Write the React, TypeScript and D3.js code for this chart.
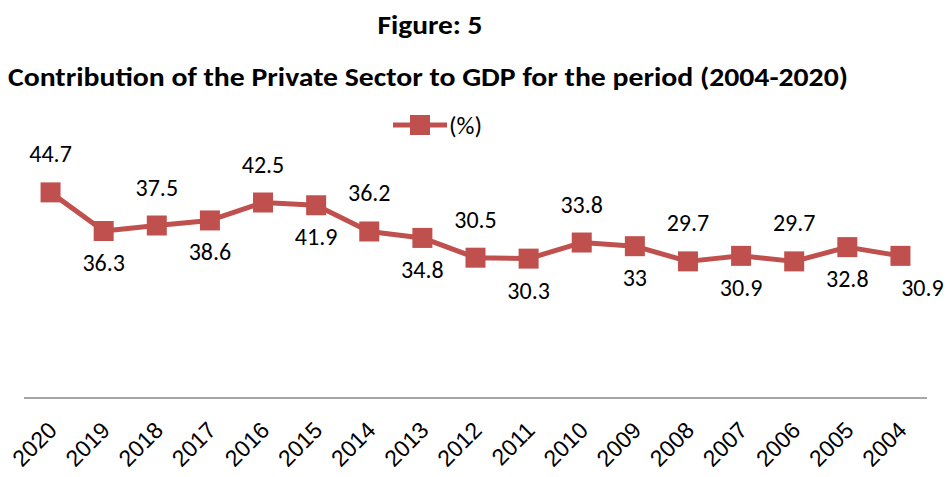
import React, { useEffect } from 'react';
import * as d3 from 'd3';

const years = ['2020', '2019', '2018', '2017', '2016', '2015', '2014', '2013', '2012',
  '2011', '2010', '2009', '2008', '2007', '2006', '2005', '2004'];
const values = [44.7, 36.3, 37.5, 38.6, 42.5, 41.9, 36.2, 34.8, 30.5,
  30.3, 33.8, 33, 29.7, 30.9, 29.7, 32.8, 30.9];
// Excel placed labels alternately above / below
const labelPos = ['above', 'below', 'above', 'below', 'above', 'below', 'above', 'below', 'above',
  'below', 'above', 'below', 'above', 'below', 'above', 'below', 'right'];
const seriesName = '(%)';
const title = 'Figure: 5';
const subtitle = 'Contribution of the Private Sector to GDP for the period (2004-2020)';

const W = 951;
const H = 477;
const RED = '#C0504D';
const axisY = 398;

const App = () => {
  useEffect(() => {
    document.body.style.margin = '0';
  }, []);

  const x = d3.scaleBand().domain(years).range([24, 927]);
  const y = d3.scaleLinear().domain([0, 50]).range([axisY, 168]);
  const cx = (d: string) => (x(d) || 0) + x.bandwidth() / 2;

  const line = d3.line<number>()
    .x((_, i) => cx(years[i]))
    .y((d) => y(d));

  const titleFont = "Carlito, 'Open Sans', sans-serif";
  const labelFont = "Carlito, 'Open Sans', sans-serif";

  return (
    <svg width={W} height={H} style={{ display: 'block', background: '#fff' }}>
      <text x={430} y={34} textAnchor="middle" fontFamily={titleFont} fontWeight="bold"
        fontSize={27} textLength={105} lengthAdjust="spacingAndGlyphs">{title}</text>
      <text x={428} y={86} textAnchor="middle" fontFamily={titleFont} fontWeight="bold"
        fontSize={27} textLength={840} lengthAdjust="spacingAndGlyphs">{subtitle}</text>

      {/* legend */}
      <g>
        <line x1={393} x2={447} y1={125} y2={125} stroke={RED} strokeWidth={5} />
        <rect x={410} y={115} width={20} height={20} fill={RED} />
        <text x={449} y={134} fontFamily={labelFont} fontSize={25} fill="#000">{seriesName}</text>
      </g>

      <line x1={24} x2={927} y1={axisY} y2={axisY} stroke="#a6a6a6" strokeWidth={2} />

      <path d={line(values) || ''} fill="none" stroke={RED} strokeWidth={5} strokeLinejoin="round" />
      {values.map((v, i) => (
        <rect key={'m' + i} x={cx(years[i]) - 10} y={y(v) - 10} width={20} height={20} fill={RED} />
      ))}

      {values.map((v, i) => {
        const pos = labelPos[i];
        const px = cx(years[i]) + (pos === 'right' ? 22 : 0);
        const py = pos === 'above' ? y(v) - 30 : y(v) + 40;
        return (
          <text key={'l' + i} x={px} y={py} textAnchor="middle" fontFamily={labelFont}
            fontSize={24} fill="#000">{v}</text>
        );
      })}

      {years.map((yr) => (
        <text key={yr} transform={`translate(${cx(yr) + 2},${axisY + 28}) rotate(-45)`}
          textAnchor="end" fontFamily="'Liberation Sans', Arial, sans-serif" fontSize={23}
          dy="0.35em" fill="#000">{yr}</text>
      ))}
    </svg>
  );
};

export default App;
